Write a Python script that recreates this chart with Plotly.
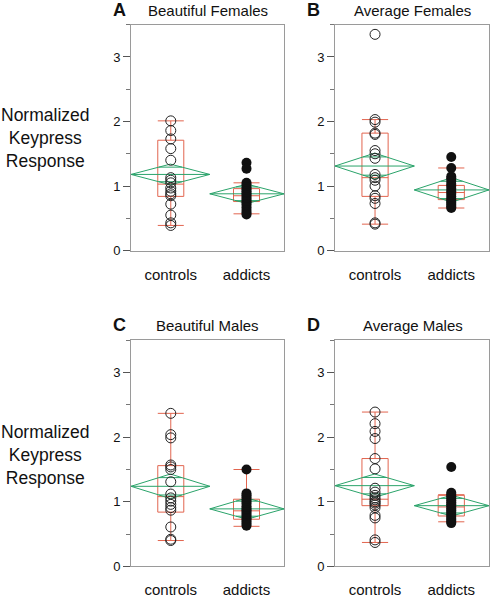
import math
import plotly.graph_objects as go

# ---------------- data ----------------
categories = ["controls", "addicts"]
panel_titles = ["Beautiful Females", "Average Females", "Beautiful Males", "Average Males"]
panel_letters = ["A", "B", "C", "D"]
y_tickvals = [0, 1, 2, 3]
y_ticktext = ["0", "1", "2", "3"]

# individual normalized keypress responses
bf_controls = [2.01, 1.86, 1.73, 1.58, 1.40, 1.13, 1.09, 1.05, 0.97, 0.92, 0.88, 0.85, 0.72, 0.55, 0.43, 0.39]
bf_addicts = [1.36, 1.27, 1.05, 1.02, 0.98, 0.95, 0.92, 0.89, 0.86, 0.83, 0.80, 0.77, 0.74, 0.71, 0.67, 0.63, 0.59, 0.56]
af_controls = [3.35, 2.03, 1.99, 1.82, 1.80, 1.55, 1.50, 1.43, 1.18, 1.13, 1.09, 1.00, 0.85, 0.81, 0.73, 0.43, 0.41]
af_addicts = [1.45, 1.28, 1.15, 1.12, 1.08, 1.03, 1.00, 0.96, 0.92, 0.88, 0.84, 0.80, 0.77, 0.74, 0.71, 0.68, 0.66]
bm_controls = [2.37, 2.04, 1.99, 1.57, 1.54, 1.50, 1.31, 1.12, 1.06, 1.01, 0.96, 0.91, 0.87, 0.61, 0.42, 0.40]
bm_addicts = [1.50, 1.13, 1.10, 1.07, 1.03, 1.00, 0.97, 0.93, 0.90, 0.87, 0.84, 0.81, 0.78, 0.75, 0.72, 0.69, 0.66, 0.63]
am_controls = [2.39, 2.21, 2.09, 1.98, 1.67, 1.51, 1.21, 1.15, 1.10, 1.06, 1.03, 1.00, 0.98, 0.95, 0.91, 0.79, 0.75, 0.41, 0.37]
am_addicts = [1.54, 1.14, 1.11, 1.08, 1.05, 1.02, 0.99, 0.96, 0.93, 0.90, 0.87, 0.84, 0.81, 0.78, 0.75, 0.72, 0.69, 0.67]

# box statistics per panel: [controls, addicts]
box_lower = [[0.39, 0.57], [0.41, 0.66], [0.40, 0.62], [0.37, 0.69]]
box_q1 = [[0.84, 0.76], [0.84, 0.79], [0.84, 0.73], [0.94, 0.78]]
box_median = [[1.03, 0.85], [1.13, 0.90], [1.08, 0.86], [1.04, 0.92]]
box_q3 = [[1.71, 0.96], [1.82, 1.01], [1.56, 1.04], [1.67, 1.10]]
box_upper = [[2.01, 1.05], [2.03, 1.28], [2.37, 1.50], [2.39, 1.11]]

# means diamonds: mean and 95% CI bounds, [controls, addicts]
mean_val = [[1.18, 0.88], [1.31, 0.94], [1.24, 0.89], [1.25, 0.94]]
ci_low = [[1.02, 0.73], [1.11, 0.75], [1.05, 0.73], [1.07, 0.78]]
ci_high = [[1.34, 1.03], [1.51, 1.13], [1.43, 1.06], [1.43, 1.10]]

panel_points = [
    (bf_controls, bf_addicts),
    (af_controls, af_addicts),
    (bm_controls, bm_addicts),
    (am_controls, am_addicts),
]

# ---------------- style / layout constants ----------------
FONT = "Liberation Sans, Arial, Helvetica, sans-serif"
BOX_COLOR = "#e2654f"
DIAMOND_COLOR = "#2aa36a"
W, H = 491, 600
X_CENTER = [0.26, 0.755]          # category centres on 0..1 panel axis
X_EDGES = [(0.0, 0.515), (0.515, 1.0)]
BOX_W = 0.17

x_domains = [[131 / W, 284 / W], [335 / W, 489 / W]]
y_domains = [[1 - 254 / H, 1 - 25 / H], [1 - 574 / H, 1 - 345 / H]]

fig = go.Figure()

for p in range(4):
    col, row = p % 2, p // 2
    ax = "" if p == 0 else str(p + 1)
    xref, yref = "x" + ax, "y" + ax

    # boxes
    for c in range(2):
        fig.add_trace(go.Box(
            x=[X_CENTER[c]], q1=[box_q1[p][c]], median=[box_median[p][c]], q3=[box_q3[p][c]],
            lowerfence=[box_lower[p][c]], upperfence=[box_upper[p][c]],
            width=BOX_W, whiskerwidth=1, boxpoints=False,
            line=dict(color=BOX_COLOR, width=1), fillcolor="rgba(0,0,0,0)",
            orientation="v", xaxis=xref, yaxis=yref, showlegend=False, hoverinfo="skip",
        ))

    # means diamonds
    for c in range(2):
        x0, x1 = X_EDGES[c]
        xc = (x0 + x1) / 2
        m, lo, hi = mean_val[p][c], ci_low[p][c], ci_high[p][c]
        fig.add_trace(go.Scatter(
            x=[x0, xc, x1, xc, x0, None, x0, x1],
            y=[m, hi, m, lo, m, None, m, m],
            mode="lines", line=dict(color=DIAMOND_COLOR, width=1),
            xaxis=xref, yaxis=yref, showlegend=False, hoverinfo="skip",
        ))
        # overlap marks
        half = (x1 - x0) / 2 * (1 - 1 / math.sqrt(2))
        d_hi = (hi - m) / math.sqrt(2)
        d_lo = (m - lo) / math.sqrt(2)
        fig.add_trace(go.Scatter(
            x=[xc - half, xc + half, None, xc - half, xc + half],
            y=[m + d_hi, m + d_hi, None, m - d_lo, m - d_lo],
            mode="lines", line=dict(color=DIAMOND_COLOR, width=1),
            xaxis=xref, yaxis=yref, showlegend=False, hoverinfo="skip",
        ))

    # points
    ctrl, addc = panel_points[p]
    fig.add_trace(go.Scatter(
        x=[X_CENTER[0]] * len(ctrl), y=ctrl, mode="markers",
        marker=dict(symbol="circle-open", size=10, color="#222", line=dict(width=1)),
        xaxis=xref, yaxis=yref, showlegend=False,
    ))
    fig.add_trace(go.Scatter(
        x=[X_CENTER[1]] * len(addc), y=addc, mode="markers",
        marker=dict(symbol="circle", size=10, color="#111"),
        xaxis=xref, yaxis=yref, showlegend=False,
    ))

    xkey = "xaxis" + ax
    ykey = "yaxis" + ax
    fig.update_layout(**{
        xkey: dict(
            domain=x_domains[col], range=[0, 1], anchor=yref,
            tickvals=X_CENTER, ticktext=categories, ticks="",
            ticklabelstandoff=10,
            showgrid=False, zeroline=False, showline=True, mirror=True,
            linecolor="#9a9a9a", linewidth=1,
            tickfont=dict(family=FONT, size=15, color="#111"),
        ),
        ykey: dict(
            domain=y_domains[row], range=[0, 3.5], anchor=xref,
            tickvals=y_tickvals, ticktext=y_ticktext,
            ticks="outside", ticklen=7, tickcolor="#555", tickwidth=1,
            minor=dict(dtick=0.5, ticks="outside", ticklen=4, tickcolor="#777", tickwidth=1),
            showgrid=False, zeroline=False, showline=True, mirror=True,
            linecolor="#9a9a9a", linewidth=1,
            tickfont=dict(family=FONT, size=13, color="#111"),
        ),
    })

annotations = []
title_pos = [(207.5, 11), (412.5, 11), (207.5, 330), (412.5, 330)]
letter_pos = [(119, 10), (313, 10), (119, 329), (313, 329)]
for p in range(4):
    tx, ty = title_pos[p]
    annotations.append(dict(text=panel_titles[p], x=tx / W, y=1 - ty / H, xref="paper", yref="paper",
                            showarrow=False, xanchor="center", yanchor="middle",
                            font=dict(family=FONT, size=15, color="#111")))
    lx, ly = letter_pos[p]
    annotations.append(dict(text="<b>" + panel_letters[p] + "</b>", x=lx / W, y=1 - ly / H,
                            xref="paper", yref="paper", showarrow=False,
                            xanchor="center", yanchor="middle",
                            font=dict(family=FONT, size=18, color="#111")))
for cy in (140, 461):
    annotations.append(dict(text="Normalized<br>Keypress<br>Response", x=45 / W, y=1 - cy / H,
                            xref="paper", yref="paper", showarrow=False,
                            xanchor="center", yanchor="middle", align="center",
                            font=dict(family=FONT, size=17.5, color="#111")))

fig.update_layout(
    width=W, height=H, margin=dict(l=0, r=0, t=0, b=0),
    paper_bgcolor="white", plot_bgcolor="white",
    annotations=annotations, showlegend=False,
)

fig.write_html(
    "out.html",
    config={"displayModeBar": False},
    post_script="document.body.style.margin='0px';document.body.style.padding='0px';",
)
